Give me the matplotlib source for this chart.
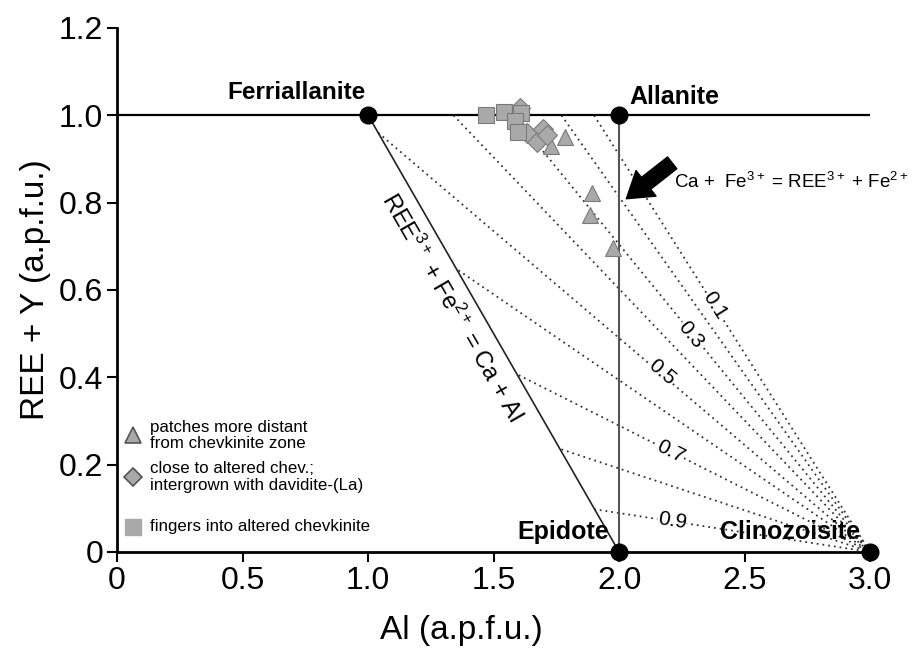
import numpy as np
import matplotlib.pyplot as plt

plt.rcParams['font.family'] = ['Liberation Sans', 'DejaVu Sans']
plt.rcParams['mathtext.fontset'] = 'custom'
plt.rcParams['mathtext.rm'] = 'Liberation Sans'
plt.rcParams['mathtext.it'] = 'Liberation Sans:italic'
plt.rcParams['mathtext.bf'] = 'Liberation Sans:bold'

# end members
em_names = ['Ferriallanite', 'Allanite', 'Epidote', 'Clinozoisite']
em_al = [1.0, 2.0, 2.0, 3.0]
em_ree = [1.0, 1.0, 0.0, 0.0]

# Fe3+/(Fe3+ + Fe2+) isolines, start points (all end at clinozoisite)
iso_ratio = [0.1, 0.2, 0.3, 0.4, 0.5, 0.6, 0.7, 0.8, 0.9]
iso_al = [1.90, 1.77, 1.58, 1.34, 1.04, 1.36, 1.60, 1.77, 1.90]
iso_ree = [1.0, 1.0, 1.0, 1.0, 0.96, 0.645, 0.405, 0.235, 0.098]

# data
tri_al = [1.606, 1.729, 1.785, 1.892, 1.884, 1.976]
tri_ree = [1.02, 0.929, 0.950, 0.821, 0.771, 0.696]
dia_al = [1.606, 1.633, 1.673, 1.697, 1.713]
dia_ree = [1.016, 0.959, 0.940, 0.968, 0.954]
sq_al = [1.470, 1.542, 1.61, 1.586, 1.598]
sq_ree = [1.000, 1.007, 1.005, 0.986, 0.961]

leg_labels = ['patches more distant\nfrom chevkinite zone',
              'close to altered chev.;\nintergrown with davidite-(La)',
              'fingers into altered chevkinite']

fig = plt.figure(figsize=(9.15, 6.49), dpi=100)
ax = fig.add_axes([0.128, 0.1495, 0.823, 0.8074])
ax.set_xlim(0, 3.0)
ax.set_ylim(0, 1.2)

for a, r in zip(iso_al, iso_ree):
    ax.plot([a, 3.0], [r, 0.0], ls=(0, (1, 2.2)), color='#333333', lw=1.3, zorder=1)

ax.plot([0, 3.0], [1.0, 1.0], color='black', lw=1.6, zorder=2)
ax.plot([1.0, 2.0], [1.0, 0.0], color='#222222', lw=1.2, zorder=2)
ax.plot([2.0, 2.0], [1.0, 0.0], color='#555555', lw=1.5, zorder=2)

gray = '#a9a9a9'
edge = '#7a7a7a'
ax.plot(tri_al, tri_ree, '^', ms=12, mfc=gray, mec=edge, mew=0.8, zorder=4)
ax.plot(dia_al, dia_ree, 'D', ms=10, mfc=gray, mec=edge, mew=0.8, zorder=4)
ax.plot(sq_al, sq_ree, 's', ms=12, mfc=gray, mec=edge, mew=0.8, zorder=5)

ax.plot(em_al, em_ree, 'o', ms=12, color='black', clip_on=False, zorder=6)

ax.text(0.99, 1.025, em_names[0], ha='right', va='bottom', fontsize=17.5, fontweight='bold')
ax.text(2.04, 1.015, em_names[1], ha='left', va='bottom', fontsize=18, fontweight='bold')
ax.text(1.96, 0.018, em_names[2], ha='right', va='bottom', fontsize=18, fontweight='bold')
ax.text(2.96, 0.018, em_names[3], ha='right', va='bottom', fontsize=18, fontweight='bold')

ax.annotate('', xy=(2.02, 0.805), xytext=(2.22, 0.895),
            arrowprops=dict(arrowstyle='simple,head_width=1.3,head_length=1.0,tail_width=0.6',
                            color='black', mutation_scale=18))
ax.text(2.22, 0.848, r'Ca +  Fe$^{3+}$ = REE$^{3+}$ + Fe$^{2+}$', fontsize=13.5,
        ha='left', va='center')

fig.canvas.draw()


def ang(x0, y0, x1, y1):
    p0 = ax.transData.transform((x0, y0))
    p1 = ax.transData.transform((x1, y1))
    return np.degrees(np.arctan2(p1[1] - p0[1], p1[0] - p0[0]))


ax.text(1.335, 0.56, r'REE$^{3+}$ + Fe$^{2+}$ = Ca + Al', fontsize=17,
        rotation=ang(1, 1, 2, 0), rotation_mode='anchor', ha='center', va='center')

lab_pos = {0.1: (2.382, 0.565), 0.3: (2.283, 0.497), 0.5: (2.171, 0.412),
           0.7: (2.203, 0.229), 0.9: (2.211, 0.071)}
for a, r, q in zip(iso_al, iso_ree, iso_ratio):
    if q in lab_pos:
        x, y = lab_pos[q]
        ax.text(x, y, str(q), fontsize=15, rotation=ang(a, r, 3.0, 0.0),
                rotation_mode='anchor', ha='center', va='center',
                bbox=dict(fc='white', ec='none', pad=0.3), zorder=3)

# legend drawn by hand
leg_y = [0.223, 0.143, 0.048]
leg_style = [dict(marker='^', ms=11, mfc=gray, mec='#555555', mew=1.2),
             dict(marker='D', ms=9, mfc=gray, mec='#555555', mew=1.2),
             dict(marker='s', ms=11, mfc=gray, mec=gray, mew=1)]
for yy, st, lab in zip(leg_y, leg_style, leg_labels):
    ax.plot([0.021], [yy], ls='none', transform=ax.transAxes, **st)
    ax.text(0.044, yy, lab, transform=ax.transAxes, fontsize=12.2,
            ha='left', va='center', linespacing=1.1)

ax.spines['top'].set_visible(False)
ax.spines['right'].set_visible(False)
ax.spines['left'].set_linewidth(2)
ax.spines['bottom'].set_linewidth(2)
ax.tick_params(direction='out', length=7, width=1.5, labelsize=23, pad=3)
ax.set_xticks([0, 0.5, 1.0, 1.5, 2.0, 2.5, 3.0])
ax.set_xticklabels(['0', '0.5', '1.0', '1.5', '2.0', '2.5', '3.0'])
ax.set_yticks([0, 0.2, 0.4, 0.6, 0.8, 1.0, 1.2])
ax.set_yticklabels(['0', '0.2', '0.4', '0.6', '0.8', '1.0', '1.2'])
ax.set_xlabel('Al (a.p.f.u.)', fontsize=24)
ax.xaxis.set_label_coords(0.457, -0.12)
ax.set_ylabel('REE + Y (a.p.f.u.)', fontsize=24)
ax.yaxis.set_label_coords(-0.088, 0.5)

fig.savefig('out.png', dpi=100)
